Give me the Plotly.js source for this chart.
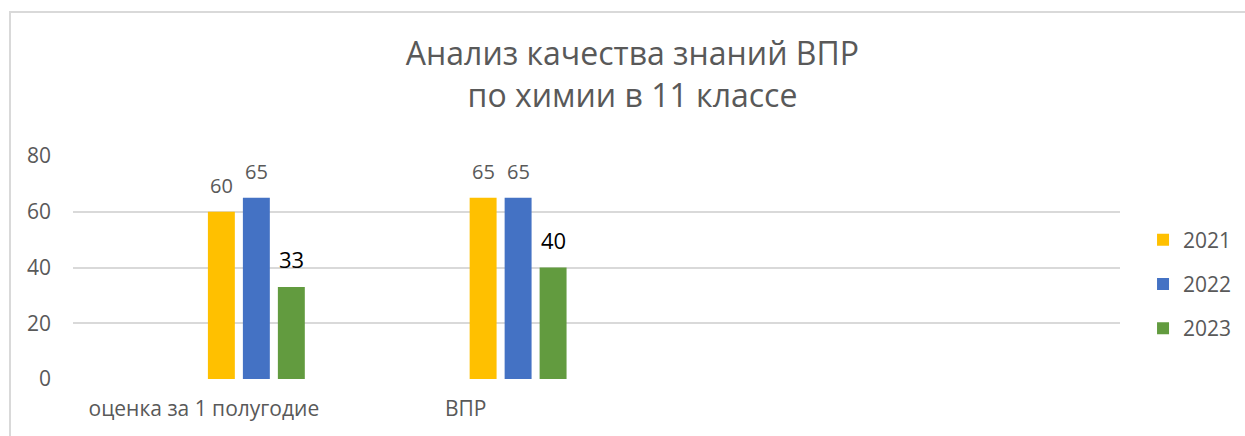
<!DOCTYPE html>
<html>
<head>
<meta charset="utf-8">
<script src="https://cdn.plot.ly/plotly-3.0.1.min.js"></script>
<style>
  html, body { margin: 0; padding: 0; background: #fff; overflow: hidden; }
  #wrap { position: relative; width: 1245px; height: 436px; }
  #frame { position: absolute; left: 9px; top: 11px; width: 1300px; height: 500px;
           border-left: 2px solid #d9d9d9; border-top: 2px solid #d9d9d9; box-sizing: border-box; pointer-events: none; }
  #chart { position: absolute; left: 0; top: 0; width: 1245px; height: 436px; }
</style>
</head>
<body>
<div id="wrap">
  <div id="chart"></div>
  <div id="frame"></div>
</div>
<script>
// ---- data ----
const categories = ["оценка за 1 полугодие", "ВПР"];
const seriesNames = ["2021", "2022", "2023"];
const values2021 = [60, 65];
const values2022 = [65, 65];
const values2023 = [33, 40];
const emptySeries = [null, null];
const yTicks = [0, 20, 40, 60, 80];
const titleText = "Анализ качества знаний ВПР<br>по химии в 11 классе";

// ---- style ----
const W = 1245, H = 436;
const M = { l: 73, r: 125, t: 156, b: 57, autoexpand: false };
const nSlots = 4;           // category slots on the axis
const bargap = 0.198;
const nGroupSlots = 6;      // 3 empty series + 3 visible
const colors = ["#FFC000", "#4472C4", "#629B3F"];
const labelColors = ["#595959", "#595959", "#000000"];
const labelSizes = [20, 20, 22];
const grey = "#595959";
const font = "Open Sans, Noto Sans, sans-serif";

const series = [values2021, values2022, values2023];

const traces = [];
for (let i = 0; i < 3; i++) {
  traces.push({ type: "bar", x: categories, y: emptySeries, showlegend: false, hoverinfo: "skip", name: "empty" + i });
}
series.forEach((vals, i) => {
  traces.push({
    type: "bar", x: categories, y: vals, name: seriesNames[i],
    marker: { color: colors[i], line: { width: 0 } },
    legendgroup: seriesNames[i]
  });
});

// data labels placed at each bar's value
const plotW = W - M.l - M.r;
const slotW = plotW / nSlots * (1 - bargap) / nGroupSlots;
const annotations = [];
series.forEach((vals, i) => {
  const slot = 3 + i;
  const xshift = (slot - (nGroupSlots - 1) / 2) * slotW;
  vals.forEach((v, j) => {
    annotations.push({
      x: categories[j], y: v, xref: "x", yref: "y",
      text: String(v), showarrow: false, yanchor: "bottom",
      xshift: xshift, yshift: 11,
      font: { family: font, size: labelSizes[i], color: labelColors[i] }
    });
  });
});

const layout = {
  width: W, height: H,
  margin: M,
  paper_bgcolor: "rgba(0,0,0,0)", plot_bgcolor: "rgba(0,0,0,0)",
  font: { family: font, color: grey },
  title: {
    text: titleText, x: 0.508, xref: "container", xanchor: "center",
    y: 0.85, yref: "container", yanchor: "top",
    font: { family: font, size: 32, color: grey }
  },
  barmode: "group", bargap: bargap, bargroupgap: 0.23,
  xaxis: {
    type: "category", categoryorder: "array", categoryarray: categories,
    range: [-0.5, nSlots - 0.5], automargin: false,
    showgrid: false, zeroline: false, showline: false, ticks: "",
    tickfont: { family: font, size: 21, color: grey },
    ticklabelstandoff: 15, fixedrange: true
  },
  yaxis: {
    range: [0, 80], tickvals: yTicks, ticktext: yTicks.map(String),
    automargin: false,
    showgrid: true, gridcolor: "#d9d9d9", gridwidth: 2,
    zeroline: false, showline: false, ticks: "",
    tickfont: { family: font, size: 21, color: grey },
    ticklabelstandoff: 21, fixedrange: true
  },
  legend: {
    x: 1.022, xanchor: "left", y: 0.426, yanchor: "middle",
    traceorder: "grouped", tracegroupgap: 14,
    font: { family: font, size: 21, color: grey },
    itemwidth: 30, bgcolor: "rgba(0,0,0,0)"
  },
  annotations: annotations,
  showlegend: true
};

Plotly.newPlot("chart", traces, layout, { displayModeBar: false, staticPlot: true });
</script>
</body>
</html>
